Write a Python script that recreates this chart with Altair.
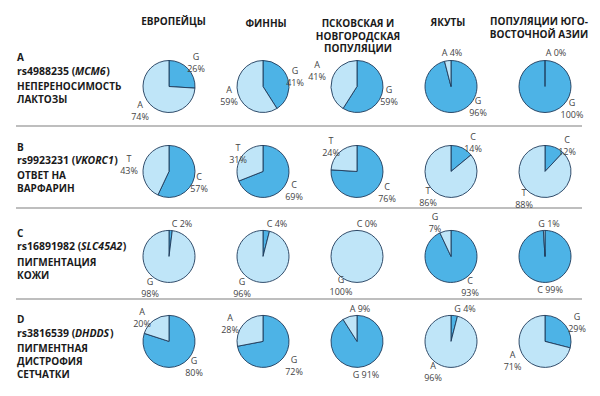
import math
import altair as alt
import pandas as pd

# ---------------- data ----------------
header_lines = [["ЕВРОПЕЙЦЫ"], ["ФИННЫ"], ["ПСКОВСКАЯ И", "НОВГОРОДСКАЯ", "ПОПУЛЯЦИИ"],
                ["ЯКУТЫ"], ["ПОПУЛЯЦИИ ЮГО-", "ВОСТОЧНОЙ АЗИИ"]]
panel_letters = ["A", "B", "C", "D"]
snps = ["rs4988235", "rs9923231", "rs16891982", "rs3816539"]
genes = ["MCM6", "VKORC1", "SLC45A2", "DHDDS"]
traits = [["НЕПЕРЕНОСИМОСТЬ", "ЛАКТОЗЫ"], ["ОТВЕТ НА", "ВАРФАРИН"],
          ["ПИГМЕНТАЦИЯ", "КОЖИ"], ["ПИГМЕНТНАЯ", "ДИСТРОФИЯ", "СЕТЧАТКИ"]]
dark_alleles = ["G", "C", "C", "G"]
light_alleles = ["A", "T", "G", "A"]
dark_pct = [[26, 41, 59, 96, 100],
            [57, 69, 76, 14, 12],
            [2, 4, 0, 93, 99],
            [80, 72, 91, 4, 29]]
light_pct = [[74, 59, 41, 4, 0],
             [43, 31, 24, 86, 88],
             [98, 96, 100, 7, 1],
             [20, 28, 9, 96, 71]]

# ---------------- layout (page px) ----------------
M = 8  # page margin
DARK, LIGHT, EDGE = "#4db3e6", "#bfe5f8", "#1e3a5a"
LH = 12  # label line height
# label block-centre offsets from pie centre (dx, dy), per row/col: (dark, light)
label_off = [
    [((27, -23.5), (-29, 24.5)), ((32, -10), (-34, 9)), ((32, 9), (-40, -16)),
     ((27, 20.5), (1, -33.5)), ((27, 22.5), (11, -33.5))],
    [((30, 12), (-40, -6.5)), ((31, 20), (-25, -17)), ((30, 22), (-26, -24.5)),
     ((22, -28.5), (-23, 25.5)), ((22, -25.5), (-21, 28))],
    [((13, -32), (-19, 32)), ((14, -32), (-21, 32)), ((10, -32), (-16, 30)),
     ((19, 31), (-16, -33.5)), ((5, 34), (4, -32))],
    [((25, 25.5), (-27, -23)), ((31, 25), (-33, -17)), ((9, 34), (3, -32)),
     ((14, -32), (-18, 30.5)), ((32, -18), (-32.5, 20))],
]
one_line = {(0, 3, "light"), (0, 4, "light"), (2, 0, "dark"), (2, 1, "dark"), (2, 2, "dark"),
            (2, 4, "dark"), (2, 4, "light"), (3, 2, "dark"), (3, 2, "light"), (3, 3, "dark")}
wide_gap = {(0, 4, "light"), (2, 0, "dark"), (2, 1, "dark"), (2, 2, "dark"), (2, 4, "light")}

header_pos = [(173.5, [22]), (266, [24]), (358, [23.8, 36.5, 49.2]), (448, [22.7]), (539, [21.5, 34.5])]
row_text_y = [(58, 72, [87, 99.5]), (148, 160.5, [176, 188.8]),
              (233.5, 247, [263, 275.5]), (320, 333.5, [348.5, 361.7, 375])]
sep_y = [126, 208, 299]

# ---------------- tables ----------------
pie_rows, lab_rows = [], []
for j in range(4):
    for i in range(5):
        for order, shade, allele, pct in ((0, "dark", dark_alleles[j], dark_pct[j][i]),
                                          (1, "light", light_alleles[j], light_pct[j][i])):
            pie_rows.append(dict(row=j, col=i, order=order, shade=shade, pct=pct))
            dx, dy = label_off[j][i][order]
            if (j, i, shade) in one_line:
                gap = "  " if (j, i, shade) in wide_gap else " "
                txt = f"{allele}{gap}{pct}%"
            else:
                txt = f"{allele}\n{pct}%"
                dy -= LH / 2  # first line is anchored, lift block to centre
            lab_rows.append(dict(row=j, col=i, label=txt,
                                 lt=math.atan2(dx, -dy), lr=math.hypot(dx, dy)))
pies_df = pd.DataFrame(pie_rows)
labs_df = pd.DataFrame(lab_rows)

# text widths (Open Sans Bold approx, em)
W = {c: 0.572 for c in "0123456789"}
W.update({"r": 0.434, "s": 0.49, " ": 0.26, "(": 0.33, ")": 0.33, "M": 0.9, "C": 0.6,
          "K": 0.62, "V": 0.6, "O": 0.74, "R": 0.62, "S": 0.53, "L": 0.5, "A": 0.64,
          "D": 0.7, "H": 0.72})
def tw(s, fs):
    return sum(W.get(c, 0.6) for c in s) * fs

RS_FS = 10.5
hdr, bold_txt, rs_pre, rs_gene, rs_close = [], [], [], [], []
for i, (hx, ys) in enumerate(header_pos):
    for line, y in zip(header_lines[i], ys):
        hdr.append(dict(t=line, px=hx - M, py=y - M))
for j in range(4):
    ly, ry, tys = row_text_y[j]
    bold_txt.append(dict(t=panel_letters[j], px=17 - M, py=ly - M))
    for line, y in zip(traits[j], tys):
        bold_txt.append(dict(t=line, px=17 - M, py=y - M))
    pre = f"{snps[j]} ("
    x0 = 17 - M
    xg = x0 + tw(pre, RS_FS)
    xc = xg + tw(genes[j], RS_FS)
    rs_pre.append(dict(t=pre, px=x0, py=ry - M))
    rs_gene.append(dict(t=genes[j], px=xg, py=ry - M))
    rs_close.append(dict(t=")", px=xc, py=ry - M))
sep_df = pd.DataFrame({"py": [y - M for y in sep_y]})

# ---------------- chart ----------------
xs = alt.Scale(domain=[0, 4], range=[169 - M, 545 - M], nice=False, zero=False)
ys = alt.Scale(domain=[0, 3], range=[86.5 - M, 341.4 - M], nice=False, zero=False)

pies = alt.Chart(pies_df).transform_stack(
    stack="pct", groupby=["row", "col"], as_=["t0", "t1"], sort=[alt.SortField("order")]
).mark_arc(outerRadius=26, stroke=EDGE, strokeWidth=0.9).encode(
    x=alt.X("col:Q", scale=xs, axis=None),
    y=alt.Y("row:Q", scale=ys, axis=None),
    theta=alt.Theta("t0:Q", scale=alt.Scale(domain=[0, 100], range=[0, 2 * math.pi]), stack=None),
    theta2="t1:Q",
    color=alt.Color("shade:N", scale=alt.Scale(domain=["dark", "light"], range=[DARK, LIGHT]), legend=None),
)

labels = alt.Chart(labs_df).mark_text(
    font="Open Sans", fontSize=9, color="#454545", lineBreak="\n", lineHeight=LH,
    align="center", baseline="middle"
).encode(
    x=alt.X("col:Q", scale=xs, axis=None),
    y=alt.Y("row:Q", scale=ys, axis=None),
    theta=alt.Theta("lt:Q", scale=None, stack=None),
    radius=alt.Radius("lr:Q", scale=None),
    text="label:N",
)

def pix_text(rows, **kw):
    return alt.Chart(pd.DataFrame(rows)).mark_text(baseline="middle", font="Open Sans",
                                                    color="#1a1a1a", **kw).encode(
        x=alt.X("px:Q", scale=None, axis=None),
        y=alt.Y("py:Q", scale=None, axis=None),
        text="t:N",
    )

headers = pix_text(hdr, fontSize=10, fontWeight="bold", align="center")
rowtxt = pix_text(bold_txt, fontSize=10, fontWeight="bold", align="left")
pre_t = pix_text(rs_pre, fontSize=RS_FS, fontWeight="bold", align="left")
gene_t = pix_text(rs_gene, fontSize=RS_FS, fontWeight="bold", fontStyle="italic", align="left")
close_t = pix_text(rs_close, fontSize=RS_FS, fontWeight="bold", align="left")

seps = alt.Chart(sep_df).mark_rule(color="#a8a8a8", strokeWidth=1.5).encode(
    x=alt.value(16 - M), x2=alt.value(582 - M),
    y=alt.Y("py:Q", scale=None, axis=None),
)

chart = alt.layer(seps, pies, labels, headers, rowtxt, pre_t, gene_t, close_t).properties(
    width=584, height=380, padding=0, autosize="none", background="white"
).configure_view(stroke=None)

chart.save("out.html", embed_options={"renderer": "svg", "actions": False})
